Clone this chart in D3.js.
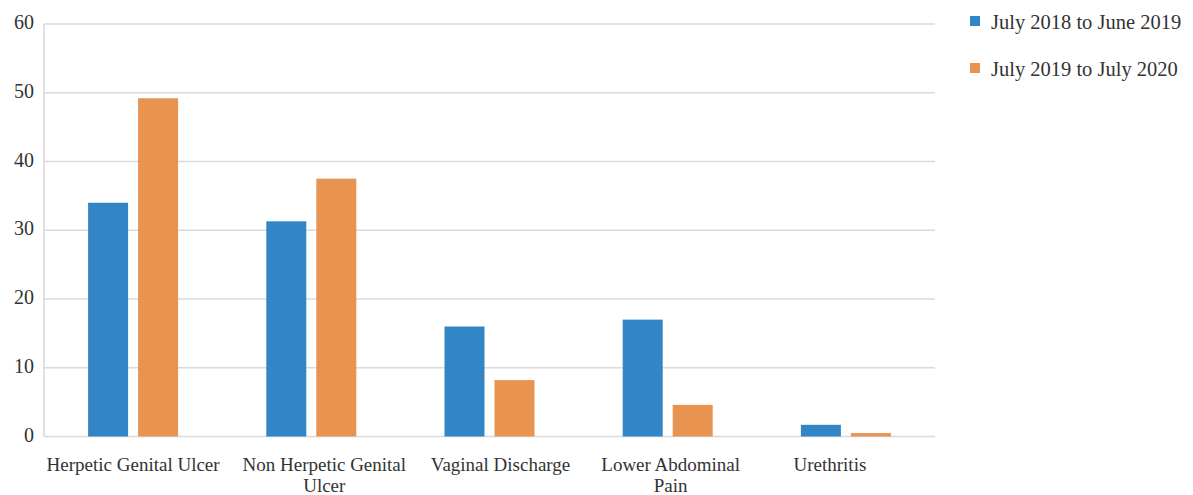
<!DOCTYPE html>
<html>
<head>
<meta charset="utf-8">
<script src="https://cdn.jsdelivr.net/npm/d3@7"></script>
<style>
  html, body { margin: 0; padding: 0; background: #fff; }
  svg { display: block; font-family: "Liberation Serif", "DejaVu Serif", serif; }
</style>
</head>
<body>
<svg id="chart" width="1193" height="495"></svg>
<script>
// Symptom categories and counts per period
const categories = [
  ["Herpetic Genital Ulcer"],
  ["Non Herpetic Genital", "Ulcer"],
  ["Vaginal Discharge"],
  ["Lower Abdominal", "Pain"],
  ["Urethritis"]
];
const seriesNames = ["July 2018 to June 2019", "July 2019 to July 2020"];
const period1 = [34, 31.3, 16, 17, 1.7];
const period2 = [49.2, 37.5, 8.2, 4.6, 0.5];
const yTicks = [0, 10, 20, 30, 40, 50, 60];
const colors = ["#3386c6", "#e8934f"];

const svg = d3.select("#chart");
const margin = { left: 44, right: 258, top: 24, bottom: 58.5 };
const W = 1193, H = 495;
const textColor = "#333";

const x = d3.scaleBand()
  .domain(d3.range(categories.length))
  .range([margin.left, W - margin.right]);

const y = d3.scaleLinear()
  .domain([0, 60])
  .range([H - margin.bottom, margin.top]);

// two bars per category, 40px wide with a 10px gap
const xs = d3.scaleBand()
  .domain([0, 1])
  .range([x.bandwidth() / 2 - 45, x.bandwidth() / 2 + 45])
  .paddingInner(0.2);

// horizontal gridlines
svg.append("g")
  .selectAll("line")
  .data(yTicks)
  .join("line")
  .attr("x1", margin.left)
  .attr("x2", W - margin.right)
  .attr("y1", d => y(d))
  .attr("y2", d => y(d))
  .attr("stroke", "#d9d9df")
  .attr("stroke-width", 1.6);

// left axis line
svg.append("line")
  .attr("x1", margin.left).attr("x2", margin.left)
  .attr("y1", y(60)).attr("y2", y(0))
  .attr("stroke", "#d9d9df").attr("stroke-width", 1.6);

// y tick labels
svg.append("g")
  .selectAll("text")
  .data(yTicks)
  .join("text")
  .attr("x", 34)
  .attr("y", d => y(d) + 5)
  .attr("text-anchor", "end")
  .attr("font-size", 20)
  .attr("fill", textColor)
  .text(d => d);

// bars
const groups = svg.append("g")
  .selectAll("g")
  .data(categories.map((c, i) => [period1[i], period2[i]]))
  .join("g")
  .attr("transform", (d, i) => `translate(${x(i)},0)`);

groups.selectAll("rect")
  .data(d => d)
  .join("rect")
  .attr("x", (d, j) => xs(j))
  .attr("width", xs.bandwidth())
  .attr("y", d => y(d))
  .attr("height", d => y(0) - y(d))
  .attr("fill", (d, j) => colors[j]);

// category labels (slight horizontal nudges so wrapped labels sit clear of each other)
const labelShift = [0, 13, 11, 3, -16];
const labels = svg.append("g")
  .selectAll("text")
  .data(categories)
  .join("text")
  .attr("x", (d, i) => x(i) + x.bandwidth() / 2 + labelShift[i])
  .attr("y", 471)
  .attr("text-anchor", "middle")
  .attr("font-size", 19)
  .attr("fill", textColor);
labels.selectAll("tspan")
  .data(d => d)
  .join("tspan")
  .attr("x", function () { return d3.select(this.parentNode).attr("x"); })
  .attr("dy", (d, k) => k === 0 ? 0 : 21)
  .text(d => d);

// legend
const legend = svg.append("g")
  .selectAll("g")
  .data(seriesNames)
  .join("g")
  .attr("transform", (d, i) => `translate(970,${21 + i * 47})`);
legend.append("rect")
  .attr("x", 0).attr("y", -5)
  .attr("width", 10).attr("height", 10)
  .attr("fill", (d, i) => colors[i]);
legend.append("text")
  .attr("x", 21)
  .attr("y", 8)
  .attr("font-size", 20.5)
  .attr("fill", textColor)
  .text(d => d);
</script>
</body>
</html>
